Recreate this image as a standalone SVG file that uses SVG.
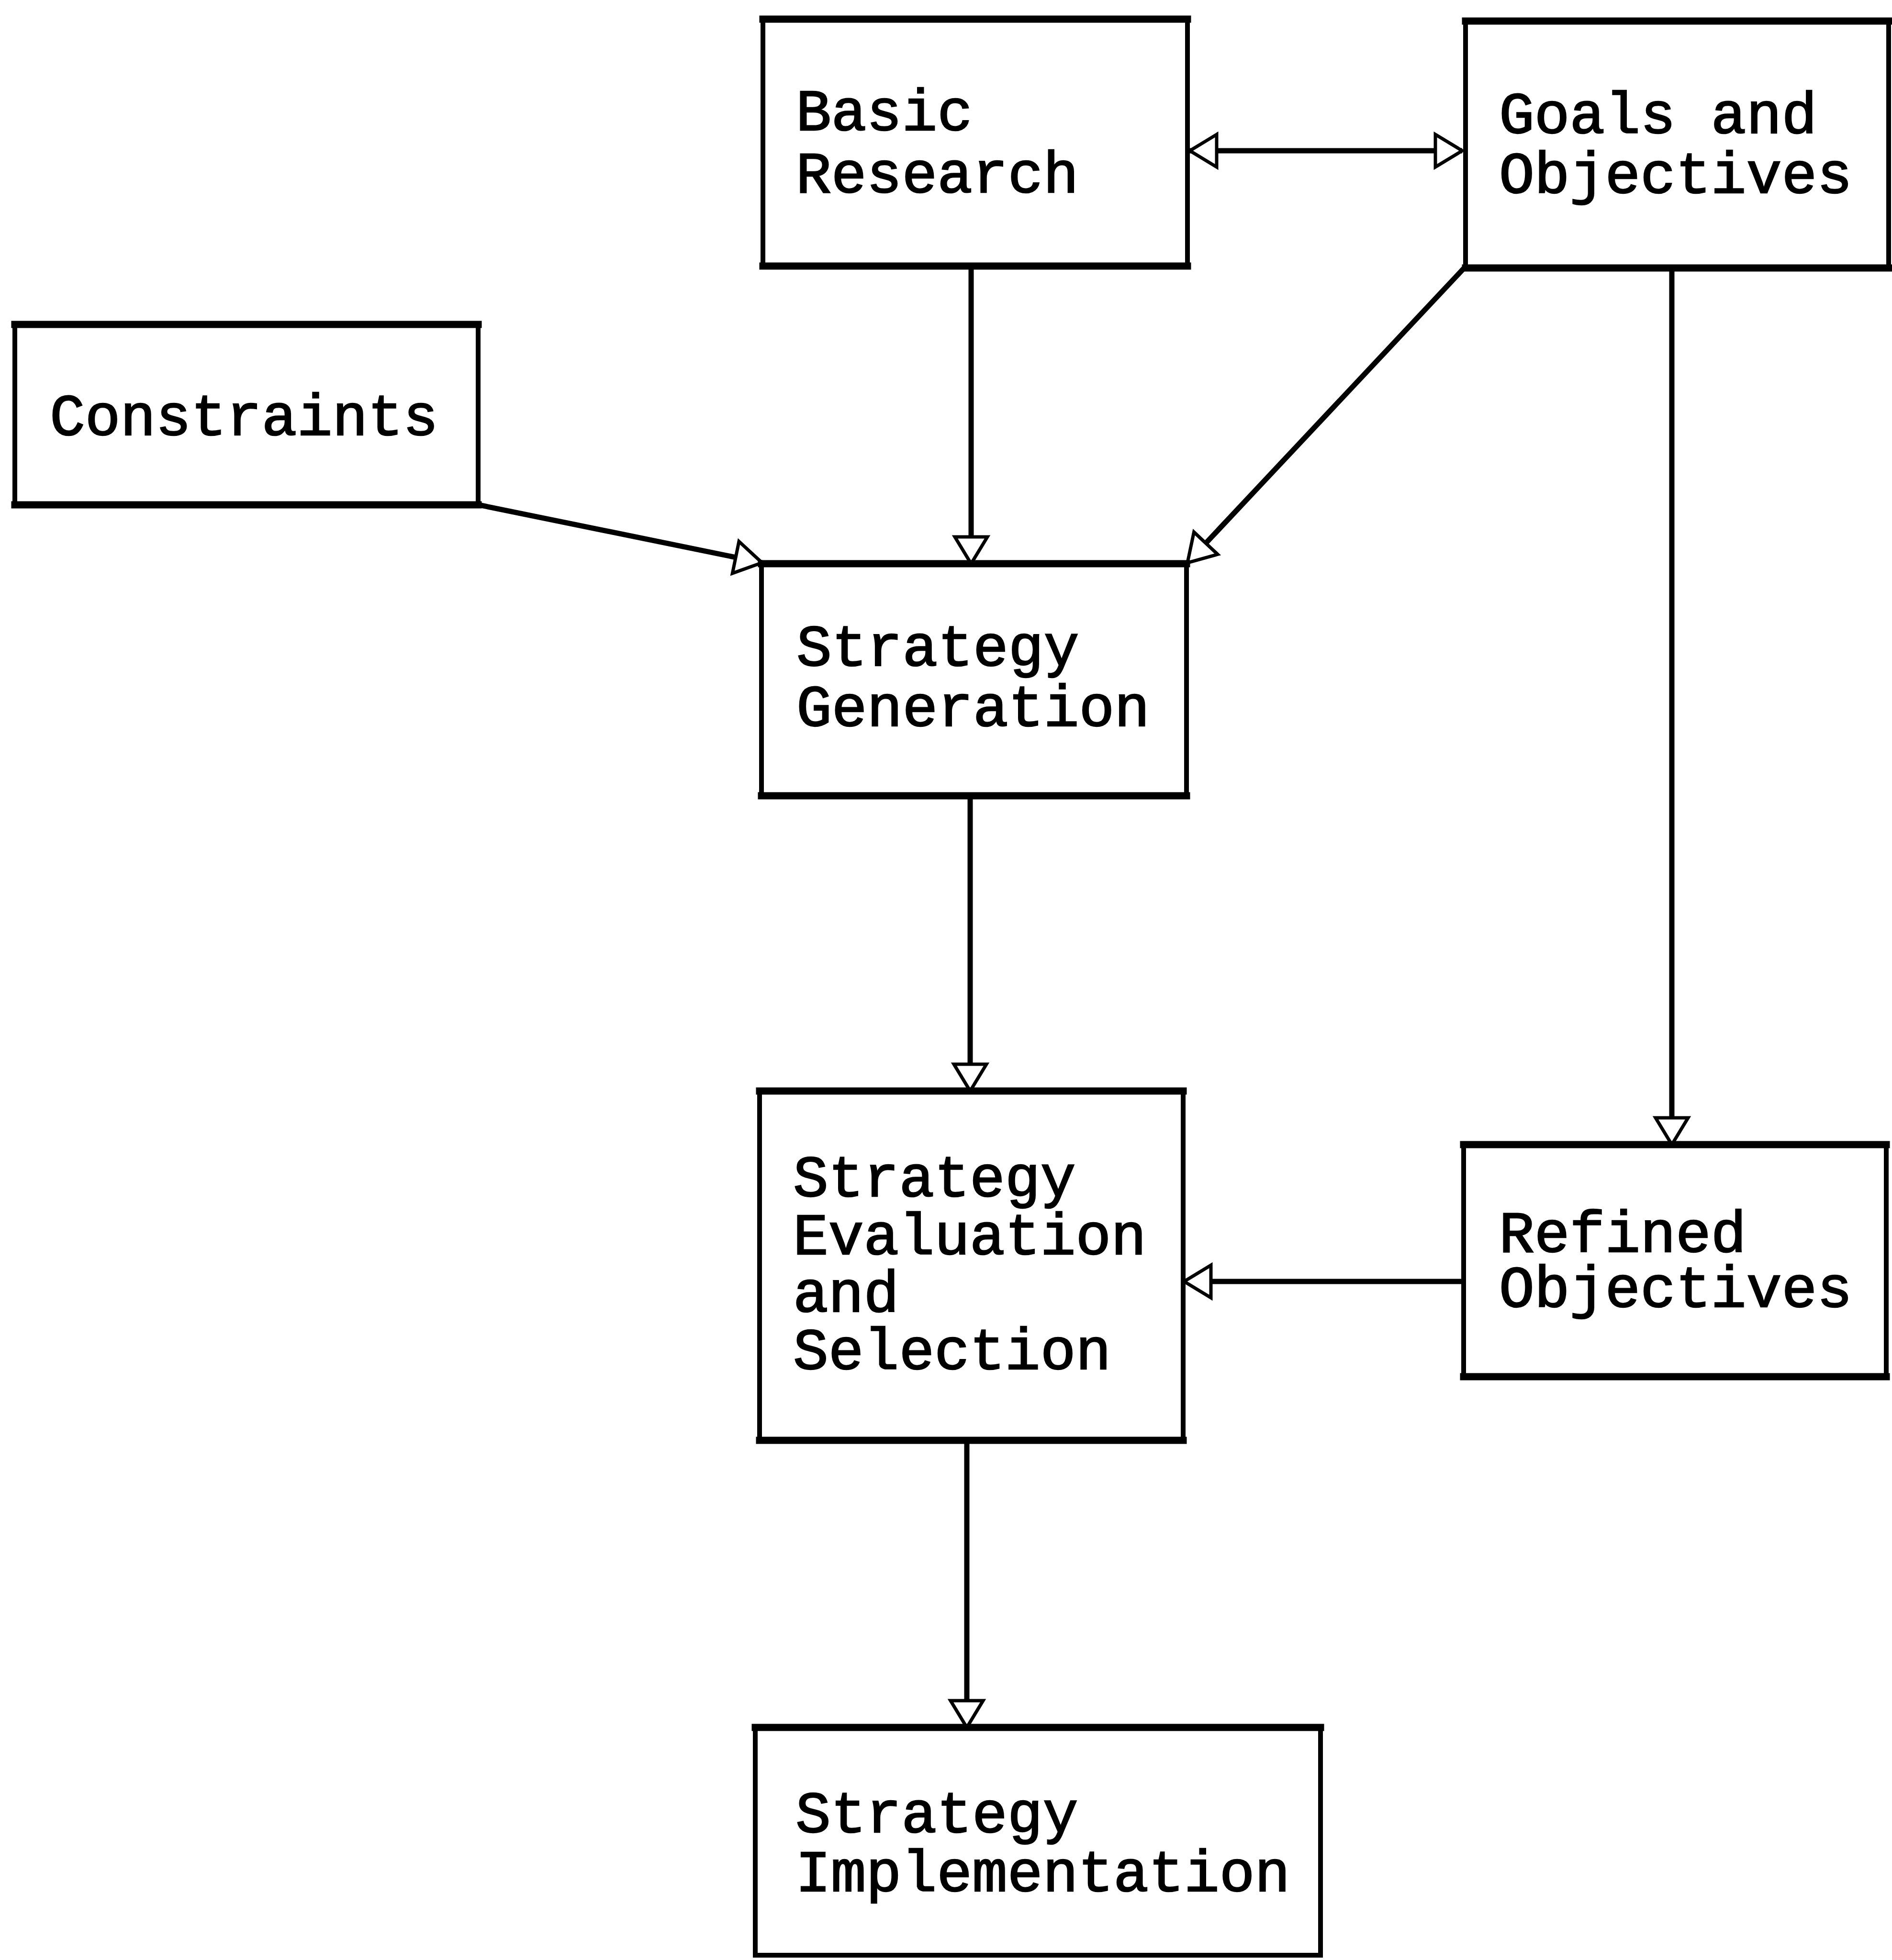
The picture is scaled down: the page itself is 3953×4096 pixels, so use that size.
<svg xmlns="http://www.w3.org/2000/svg" width="3953" height="4096" viewBox="0 0 3953 4096">
<style>
.box{fill:none;stroke:#000;stroke-width:10}
.edge{stroke:#000;stroke-width:15;stroke-linecap:square}
.lbl{font-family:"Liberation Mono","DejaVu Sans Mono",monospace;font-size:123px;fill:#000;stroke:#000;stroke-width:2.5}
.con{fill:none;stroke:#000;stroke-width:11;marker-end:url(#ah)}
</style>
<defs>
<marker id="ah" viewBox="-4 -4 64 76" refX="56" refY="34" markerWidth="64" markerHeight="76" markerUnits="userSpaceOnUse" orient="auto-start-reverse" overflow="visible">
<path d="M0,0 L56,34 L0,68 Z" fill="#fff" stroke="#000" stroke-width="7" stroke-linejoin="miter"/>
</marker>
</defs>
<rect width="3953" height="4096" fill="#fff"/>
<g id="connectors">
<line class="con" x1="2486" y1="315" x2="3055" y2="315" stroke-width="13" marker-start="url(#ah)"/>
<line class="con" x1="2029" y1="556" x2="2029" y2="1178"/>
<line class="con" x1="1000" y1="1055" x2="1592" y2="1176" stroke-width="13"/>
<line class="con" x1="3061" y1="558" x2="2481" y2="1176"/>
<line class="con" x1="3493" y1="560" x2="3493" y2="2392"/>
<line class="con" x1="2027" y1="1663" x2="2027" y2="2280"/>
<line class="con" x1="3058" y1="2678" x2="2474" y2="2678" stroke-width="13"/>
<line class="con" x1="2020" y1="3010" x2="2020" y2="3610"/>
</g>
<g id="basic-research">
<rect class="box" x="1594" y="40" width="887" height="516"/>
<line class="edge" x1="1594" y1="40" x2="2481" y2="40"/>
<line class="edge" x1="1594" y1="556" x2="2481" y2="556"/>
<text class="lbl" x="1663" y="272">Basic</text>
<text class="lbl" x="1663" y="402">Research</text>
</g>
<g id="goals-objectives">
<rect class="box" x="3062" y="44" width="884" height="516"/>
<line class="edge" x1="3062" y1="44" x2="3946" y2="44"/>
<line class="edge" x1="3062" y1="560" x2="3946" y2="560"/>
<text class="lbl" x="3132" y="278">Goals and</text>
<text class="lbl" x="3132" y="403">Objectives</text>
</g>
<g id="constraints">
<rect class="box" x="31" y="678" width="968" height="377"/>
<line class="edge" x1="31" y1="678" x2="999" y2="678"/>
<line class="edge" x1="31" y1="1055" x2="999" y2="1055"/>
<text class="lbl" x="104" y="909">Constraints</text>
</g>
<g id="strategy-generation">
<rect class="box" x="1591" y="1178" width="888" height="485"/>
<line class="edge" x1="1591" y1="1178" x2="2479" y2="1178"/>
<line class="edge" x1="1591" y1="1663" x2="2479" y2="1663"/>
<text class="lbl" x="1664" y="1391">Strategy</text>
<text class="lbl" x="1664" y="1517">Generation</text>
</g>
<g id="strategy-evaluation">
<rect class="box" x="1587" y="2280" width="885" height="730"/>
<line class="edge" x1="1587" y1="2280" x2="2472" y2="2280"/>
<line class="edge" x1="1587" y1="3010" x2="2472" y2="3010"/>
<text class="lbl" x="1657" y="2500">Strategy</text>
<text class="lbl" x="1657" y="2621">Evaluation</text>
<text class="lbl" x="1657" y="2741">and</text>
<text class="lbl" x="1657" y="2861">Selection</text>
</g>
<g id="refined-objectives">
<rect class="box" x="3058" y="2392" width="883" height="485"/>
<line class="edge" x1="3058" y1="2392" x2="3941" y2="2392"/>
<line class="edge" x1="3058" y1="2877" x2="3941" y2="2877"/>
<text class="lbl" x="3132" y="2616">Refined</text>
<text class="lbl" x="3132" y="2731">Objectives</text>
</g>
<g id="strategy-implementation">
<rect class="box" x="1578" y="3610" width="1181" height="476"/>
<line class="edge" x1="1578" y1="3610" x2="2759" y2="3610"/>
<text class="lbl" x="1662" y="3829">Strategy</text>
<text class="lbl" x="1662" y="3952">Implementation</text>
</g>
</svg>
